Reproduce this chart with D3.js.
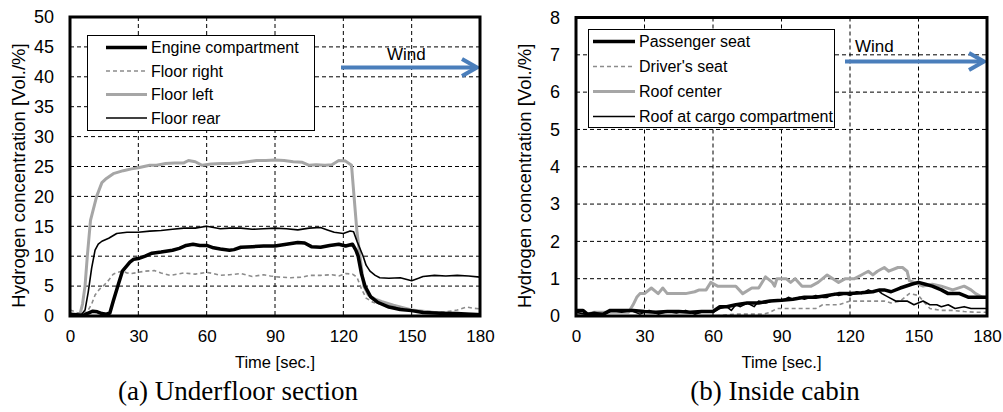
<!DOCTYPE html>
<html><head><meta charset="utf-8">
<script src="https://cdn.jsdelivr.net/npm/d3@7"></script>
<style>body{margin:0;background:#fff}svg{display:block}</style>
</head><body>
<svg id="c" width="1003" height="412"></svg>
<script>
// ---------- data ----------
const xTicks = [0,30,60,90,120,150,180];
const yTicksA = [0,5,10,15,20,25,30,35,40,45,50];
const yTicksB = [0,1,2,3,4,5,6,7,8];

const namesA = ["Engine compartment","Floor right","Floor left","Floor rear"];
const namesB = ["Passenger seat","Driver's seat","Roof center","Roof at cargo compartment"];

const engineT = [0,3,6,8,10,12,14,16,17.5,19,21,23,26.3,28,30,33,36,40,45,48,51,54,57,60,63,66,70,72,75,80,85,90,95,100,103,106,110,114,118,121,124,125.5,126.5,128,129.5,132,135,140,145,150,155,160,165,170,175,180];
const engineV = [0.3,0.2,0.1,0.5,0.8,0.7,0.4,0.3,0.5,2.5,5,7.5,9,9.5,9.6,10,10.5,10.7,11,11.3,11.8,12,11.8,11.8,11.4,11.2,11,11.1,11.5,11.6,11.7,11.7,12,12.3,12.2,11.6,11.5,11.8,12,11.7,12,11,10,7,5,3.2,2.3,1.5,1.1,0.9,0.6,0.5,0.4,0.4,0.3,0.2];

const floorRightT = [0,3,6,8,9.5,11,13,14.6,17,19,21,23,25,27,30,33,37,40,44,47,50,55,60,63,66,70,75,80,85,88,92,97,102,105,110,115,118,121,124,126,128,130,133,136,140,145,150,155,160,165,170,174,177,180];
const floorRightV = [1,0.6,0.3,1,2,3.5,4.5,5,6,7,7.3,7.5,7.2,7.1,7.3,7.5,7.6,7.2,6.8,7,7.2,7,7.3,7.1,6.8,6.9,7.1,6.6,6.9,6.7,6.5,6.4,6.5,6.8,6.8,6.9,6.7,7.1,7,6.5,4.5,3,2.3,2,1.7,1.4,1,0.8,0.7,0.7,1,1.5,1.3,1.2];

const floorLeftT = [0,3,4.5,5.5,6.6,7.6,9,11.7,14,16,19,23.4,27,30,35,38,42,46,50,52,55,58,62,66,70,74,78,82,86,90,94,98,102,105,108,112,115,118,121,123.6,124.7,126,127.3,129,131,134,137,142,150,160,170,180];
const floorLeftV = [0.3,0.2,0.5,2,5,10,16,20,22.3,23,23.8,24.3,24.6,24.8,25.2,25.2,25.5,25.6,25.6,26,25.8,25.2,25.4,25.5,25.5,25.6,25.8,26,26,26.1,26,25.8,25.7,25.2,25.3,25.2,25.3,26,25.9,25.2,20,14,10,5,3.5,2.8,2.4,1.8,1,0.6,0.4,0.3];

const floorRearT = [0,3,5,6.6,8,9.5,11,12.4,14,17,20.5,25,30,35,40,45,50,55,60,63,66,70,75,80,85,90,95,100,105,110,113,116,120,123,124.5,126,128.7,130,131.7,134,136,140,145,150,153,155,160,165,170,175,180];
const floorRearV = [0.2,0.1,0.2,1,4,8,11,12,12.5,13,13.8,14,14,14.2,14.3,14.5,14.7,14.7,15,14.8,14.6,14.7,14.7,14.5,14.6,14.7,14.6,14.4,14.7,14.8,14.4,14,13.8,14.2,14.1,12.5,10,8.5,7.5,6.8,6.4,6.3,6.4,5.9,6.3,6.6,6.8,6.7,6.8,6.7,6.5];

const passengerT = [0,3,5,8,12,15,20,25,30,35,40,45,50,55,60,63,66,70,75,80,85,90,95,100,105,110,115,120,125,130,133,135,138,142,147,150,153,156,160,163,168,172,176,180];
const passengerV = [0.15,0.15,0.05,0.05,0.05,0.15,0.15,0.15,0.12,0.1,0.12,0.12,0.1,0.12,0.12,0.25,0.25,0.3,0.35,0.35,0.4,0.42,0.45,0.5,0.5,0.55,0.6,0.6,0.62,0.65,0.7,0.7,0.65,0.75,0.85,0.9,0.85,0.8,0.7,0.6,0.6,0.5,0.5,0.5];

const driverT = [0,5,10,20,40,60,70,75,82,85,88,92,100,105,108,115,120,125,135,138,142,144,146,150,152,155,160,165,170,175,180];
const driverV = [0.05,0.02,0,0,0,0,0.05,0.05,0.05,0.1,0.2,0.2,0.2,0.2,0.3,0.3,0.4,0.4,0.4,0.35,0.4,0.5,0.6,0.55,0.4,0.2,0.15,0.15,0.12,0.1,0.1];

const roofCenterT = [0,5,8,12,16,20,23,25,26.6,28,30,33,36,38,40,44,48,52,54,57,59,62,66,70,73,77,80,83,86,87,88,92,94,96,99,103,106,110,115,118,122,125,128,130,132,135,137,141,143,145,146,148,152,156,160,165,170,173,175,178,180];
const roofCenterV = [0.05,0.05,0.1,0.1,0.1,0.1,0.1,0.3,0.5,0.6,0.6,0.75,0.6,0.75,0.6,0.6,0.6,0.65,0.7,0.7,0.9,0.8,0.8,0.8,0.6,0.75,0.75,1.05,0.9,0.8,1.0,1.0,0.9,1.0,0.8,0.8,0.9,1.1,0.9,1.0,1.0,1.1,1.2,1.1,1.2,1.3,1.2,1.3,1.3,1.2,0.95,0.9,0.8,0.85,0.8,0.7,0.8,0.7,0.6,0.5,0.5];

const roofCargoT = [0,4,8,12,16,20,24,28,32,36,40,44,48,52,56,60,63,66,68,70,72,75,78,80,83,86,90,93,95,98,100,103,105,108,110,113,115,118,120,123,125,128,130,132,134,137,140,145,148,152,155,158,160,163,166,170,173,176,180];
const roofCargoV = [0.1,0.05,0.1,0.05,0.15,0.1,0.15,0.05,0.15,0.05,0.12,0.08,0.15,0.05,0.12,0.1,0.2,0.25,0.15,0.3,0.25,0.35,0.25,0.4,0.35,0.4,0.4,0.5,0.45,0.5,0.45,0.5,0.55,0.5,0.5,0.6,0.55,0.6,0.55,0.65,0.6,0.7,0.65,0.7,0.6,0.5,0.4,0.4,0.3,0.4,0.3,0.3,0.25,0.3,0.2,0.25,0.2,0.2,0.2];

// ---------- styles ----------
const styles = [
  {stroke:"#000", width:3.5, dash:null},
  {stroke:"#8c8c8c", width:1.6, dash:"4,3"},
  {stroke:"#a6a6a6", width:3, dash:null},
  {stroke:"#000", width:1.6, dash:null}
];
const drawOrder = [2,1,3,0];

const svg = d3.select("#c");
const sans = "'Liberation Sans', Arial, sans-serif";

function panel(o){
  const x = d3.scaleLinear().domain([0,180]).range([o.left,o.right]);
  const y = d3.scaleLinear().domain([0,o.ymax]).range([o.bottom,o.top]);
  const g = svg.append("g");
  const clipId = "clip"+o.id;
  svg.append("clipPath").attr("id",clipId).append("rect")
    .attr("x",o.left).attr("y",o.top).attr("width",o.right-o.left).attr("height",o.bottom-o.top);
  // grid
  g.append("g").selectAll("line").data(o.yTicks.slice(1,-1)).join("line")
    .attr("x1",o.left).attr("x2",o.right).attr("y1",d=>y(d)).attr("y2",d=>y(d))
    .attr("stroke","#000").attr("stroke-width",1).attr("stroke-dasharray","4,3");
  g.append("g").selectAll("line").data(xTicks.slice(1,-1)).join("line")
    .attr("y1",o.top).attr("y2",o.bottom).attr("x1",d=>x(d)).attr("x2",d=>x(d))
    .attr("stroke","#000").attr("stroke-width",1).attr("stroke-dasharray","4,3");
  // series
  const line = d3.line().x(d=>x(d[0])).y(d=>y(d[1]));
  const lg = g.append("g").attr("clip-path",`url(#${clipId})`);
  drawOrder.forEach(i=>{
    const s = o.series[i], st = styles[i];
    const pts = s.t.map((t,k)=>[t,s.v[k]]);
    lg.append("path").attr("d",line(pts)).attr("fill","none")
      .attr("stroke",st.stroke).attr("stroke-width",st.width)
      .attr("stroke-dasharray",st.dash).attr("stroke-linejoin","round");
  });
  // legend
  const L = o.legend;
  g.append("rect").attr("x",L.x).attr("y",L.y).attr("width",L.w).attr("height",L.h)
    .attr("fill","#fff").attr("stroke","#000").attr("stroke-width",1);
  o.names.forEach((n,i)=>{
    const st = styles[i], yy = L.row0 + i*L.dy;
    g.append("line").attr("x1",L.sx0).attr("x2",L.sx1).attr("y1",yy).attr("y2",yy)
      .attr("stroke",st.stroke).attr("stroke-width",st.width).attr("stroke-dasharray",st.dash);
    g.append("text").attr("x",L.tx).attr("y",yy+5.5).text(n)
      .attr("font-family",sans).attr("font-size",16).attr("fill","#000");
  });
  // wind
  const W = o.wind;
  g.append("text").attr("x",W.tx).attr("y",W.ty).text("Wind")
    .attr("font-family",sans).attr("font-size",17).attr("fill","#000");
  g.append("line").attr("x1",W.x0).attr("x2",W.x1-2).attr("y1",W.y).attr("y2",W.y)
    .attr("stroke","#4a7ebb").attr("stroke-width",4);
  g.append("path").attr("d",`M${W.x1-15},${W.y-8.5}L${W.x1},${W.y}L${W.x1-15},${W.y+8.5}`)
    .attr("fill","none").attr("stroke","#4a7ebb").attr("stroke-width",4).attr("stroke-linejoin","miter");
  // frame
  g.append("rect").attr("x",o.left).attr("y",o.top).attr("width",o.right-o.left).attr("height",o.bottom-o.top)
    .attr("fill","none").attr("stroke","#000").attr("stroke-width",3);
  // axes
  const ax = g.append("g").attr("transform",`translate(0,${o.bottom})`)
    .call(d3.axisBottom(x).tickValues(xTicks).tickSize(0).tickPadding(14));
  ax.select(".domain").remove();
  ax.selectAll("text").attr("font-family",sans).attr("font-size",17).attr("fill","#000");
  const ay = g.append("g").attr("transform",`translate(${o.left},0)`)
    .call(d3.axisLeft(y).tickValues(o.yTicks).tickSize(0).tickPadding(16));
  ay.select(".domain").remove();
  ay.selectAll("text").attr("font-family",sans).attr("font-size",18).attr("fill","#000");
  // titles
  g.append("text").attr("x",(o.left+o.right)/2).attr("y",368).attr("text-anchor","middle")
    .text("Time [sec.]").attr("font-family",sans).attr("font-size",16.5);
  g.append("text").attr("transform",`translate(${o.ylx},${(o.top+o.bottom)/2+9}) rotate(-90)`)
    .attr("text-anchor","middle").text("Hydrogen concentration [Vol./%]")
    .attr("font-family",sans).attr("font-size",18.5);
  g.append("text").attr("x",o.capx).attr("y",400).attr("text-anchor","middle")
    .text(o.caption).attr("font-family","'Liberation Serif', 'Times New Roman', serif").attr("font-size",27);
}

panel({id:"A", left:70, right:480, top:17, bottom:316, ymax:50, yTicks:yTicksA,
  series:[{t:engineT,v:engineV},{t:floorRightT,v:floorRightV},{t:floorLeftT,v:floorLeftV},{t:floorRearT,v:floorRearV}],
  names:namesA,
  legend:{x:87.5,y:35.5,w:227,h:95,row0:47.5,dy:23.5,sx0:106,sx1:147,tx:151},
  wind:{tx:387,ty:60,x0:341,x1:477,y:67.5},
  ylx:25, capx:238, caption:"(a) Underfloor section"});

panel({id:"B", left:576, right:987, top:17.5, bottom:316, ymax:8, yTicks:yTicksB,
  series:[{t:passengerT,v:passengerV},{t:driverT,v:driverV},{t:roofCenterT,v:roofCenterV},{t:roofCargoT,v:roofCargoV}],
  names:namesB,
  legend:{x:588.5,y:29.5,w:246,h:98,row0:41.5,dy:25,sx0:593,sx1:635,tx:639},
  wind:{tx:855,ty:52,x0:845,x1:984,y:61.5},
  ylx:531, capx:775, caption:"(b) Inside cabin"});
</script>
</body></html>
